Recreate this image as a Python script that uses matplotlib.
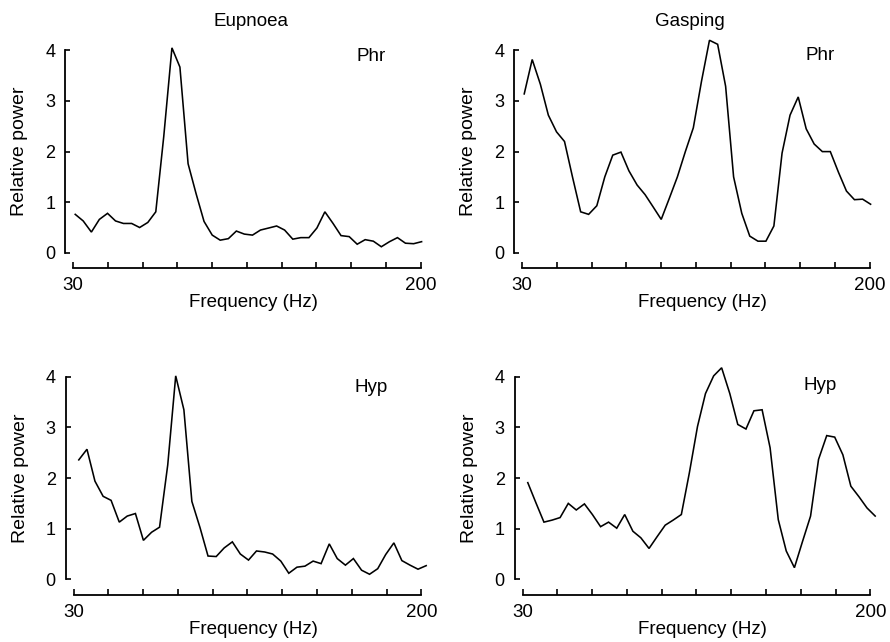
"""
Power spectra of phrenic (Phr) and hypoglossal (Hyp) activity during
eupnoea and gasping. Four panels, offset spines, journal style.
"""

import matplotlib
import matplotlib.pyplot as plt

matplotlib.use("Agg")

plt.rcParams["font.family"] = ["Liberation Sans", "DejaVu Sans"]

FIG_W, FIG_H = 890, 642
INK = "black"

# frequency bins (Hz) of the spectra, top row and bottom row
FREQ_TOP = [
    31.0, 34.9, 38.9, 42.8, 46.8, 50.7, 54.6, 58.6, 62.5, 66.5, 70.4,
    74.3, 78.3, 82.2, 86.2, 90.1, 94.0, 98.0, 101.9, 105.9, 109.8, 113.7,
    117.7, 121.6, 125.6, 129.5, 133.4, 137.4, 141.3, 145.3, 149.2, 153.1,
    157.1, 161.0, 165.0, 168.9, 172.8, 176.8, 180.7, 184.7, 188.6, 192.5,
    196.5, 200.4,
]
FREQ_BOTTOM = [
    32.5, 36.5, 40.4, 44.4, 48.3, 52.3, 56.2, 60.2, 64.1, 68.1, 72.0,
    76.0, 79.9, 83.9, 87.8, 91.8, 95.7, 99.7, 103.6, 107.6, 111.5, 115.5,
    119.4, 123.4, 127.3, 131.3, 135.2, 139.2, 143.1, 147.1, 151.0, 155.0,
    158.9, 162.9, 166.8, 170.8, 174.7, 178.7, 182.6, 186.6, 190.5, 194.5,
    198.4, 202.4,
]

# relative power
EUPNOEA_PHR = [
    0.76, 0.63, 0.41, 0.66, 0.78, 0.63, 0.58, 0.58, 0.50, 0.60, 0.81,
    2.30, 4.05, 3.67, 1.76, 1.17, 0.62, 0.35, 0.25, 0.28, 0.43, 0.37,
    0.35, 0.45, 0.49, 0.53, 0.45, 0.27, 0.30, 0.30, 0.49, 0.81, 0.58,
    0.34, 0.32, 0.17, 0.26, 0.23, 0.12, 0.22, 0.30, 0.19, 0.18, 0.22,
]
EUPNOEA_HYP = [
    2.36, 2.57, 1.94, 1.64, 1.56, 1.13, 1.25, 1.30, 0.77, 0.93, 1.03,
    2.26, 4.02, 3.35, 1.54, 1.02, 0.46, 0.45, 0.62, 0.74, 0.50, 0.38,
    0.56, 0.54, 0.50, 0.36, 0.12, 0.24, 0.26, 0.36, 0.31, 0.70, 0.41,
    0.28, 0.41, 0.18, 0.10, 0.21, 0.49, 0.72, 0.37, 0.28, 0.20, 0.27,
]
GASPING_PHR = [
    3.14, 3.82, 3.33, 2.72, 2.39, 2.20, 1.50, 0.81, 0.76, 0.93, 1.50,
    1.93, 1.99, 1.62, 1.34, 1.15, 0.91, 0.66, 1.07, 1.50, 2.00, 2.47,
    3.39, 4.20, 4.12, 3.29, 1.50, 0.78, 0.33, 0.23, 0.23, 0.53, 1.97,
    2.72, 3.08, 2.45, 2.15, 2.00, 2.00, 1.59, 1.22, 1.05, 1.06, 0.96,
]
GASPING_HYP = [
    1.91, 1.51, 1.13, 1.17, 1.22, 1.50, 1.37, 1.49, 1.28, 1.04, 1.13,
    1.01, 1.28, 0.95, 0.82, 0.61, 0.84, 1.07, 1.17, 1.28, 2.10, 3.02,
    3.67, 4.02, 4.18, 3.67, 3.06, 2.97, 3.33, 3.35, 2.60, 1.18, 0.56,
    0.23, 0.74, 1.25, 2.37, 2.84, 2.81, 2.46, 1.84, 1.63, 1.41, 1.25,
]

XTICK_HZ = [30, 47, 64, 81, 98, 115, 132, 149, 166, 183, 200]
XTICK_LABELS = ["30", "", "", "", "", "", "", "", "", "", "200"]
YTICKS = [0, 1, 2, 3, 4]
CONDITIONS = ["Eupnoea", "Gasping"]

AX_W, AX_H = 366, 232.8


def px_rect(left, bottom):
    # left / bottom edge given in image pixels (origin top-left)
    return [left / FIG_W, (FIG_H - bottom) / FIG_H, AX_W / FIG_W, AX_H / FIG_H]


def draw_panel(fig, rect, freq, power, tag, tag_y):
    ax = fig.add_axes(rect)
    ax.plot(freq, power, color=INK, lw=1.15, solid_joinstyle="miter")
    ax.set_xlim(26, 205)
    ax.set_ylim(-0.3, 4.3)

    for s in ("top", "right"):
        ax.spines[s].set_visible(False)
    ax.spines["left"].set_bounds(0, 4)
    ax.spines["bottom"].set_bounds(30, 200)
    for s in ("left", "bottom"):
        ax.spines[s].set_linewidth(1.3)

    ax.set_xticks(XTICK_HZ)
    ax.set_xticklabels(XTICK_LABELS)
    ax.set_yticks(YTICKS)
    ax.tick_params(axis="x", direction="in", length=4.3, width=1.2,
                   labelsize=13.5, pad=6.5)
    ax.tick_params(axis="y", direction="in", length=3.8, width=1.2,
                   labelsize=13, pad=7)

    ax.text(0.514, -0.15, "Frequency (Hz)", transform=ax.transAxes,
            ha="center", va="center", fontsize=13.5)
    ax.text(-0.123, 0.5, "Relative power", transform=ax.transAxes,
            rotation=90, ha="center", va="center", fontsize=14)
    ax.text(175.5, tag_y, tag, ha="center", va="center", fontsize=13.5)
    return ax


def main():
    fig = plt.figure(figsize=(FIG_W / 100, FIG_H / 100), dpi=100)

    draw_panel(fig, px_rect(65, 268), FREQ_TOP, EUPNOEA_PHR, "Phr", 3.88)
    draw_panel(fig, px_rect(514, 268), FREQ_TOP, GASPING_PHR, "Phr", 3.9)
    draw_panel(fig, px_rect(65.5, 594.5), FREQ_BOTTOM, EUPNOEA_HYP, "Hyp", 3.8)
    draw_panel(fig, px_rect(514.5, 594.5), FREQ_BOTTOM, GASPING_HYP, "Hyp", 3.83)

    fig.text(251 / FIG_W, 1 - 21 / FIG_H, CONDITIONS[0], ha="center",
             va="center", fontsize=13.5)
    fig.text(690 / FIG_W, 1 - 21 / FIG_H, CONDITIONS[1], ha="center",
             va="center", fontsize=13.5)

    fig.savefig("out.png", dpi=100, facecolor="white")
    plt.close(fig)


if __name__ == "__main__":
    main()
